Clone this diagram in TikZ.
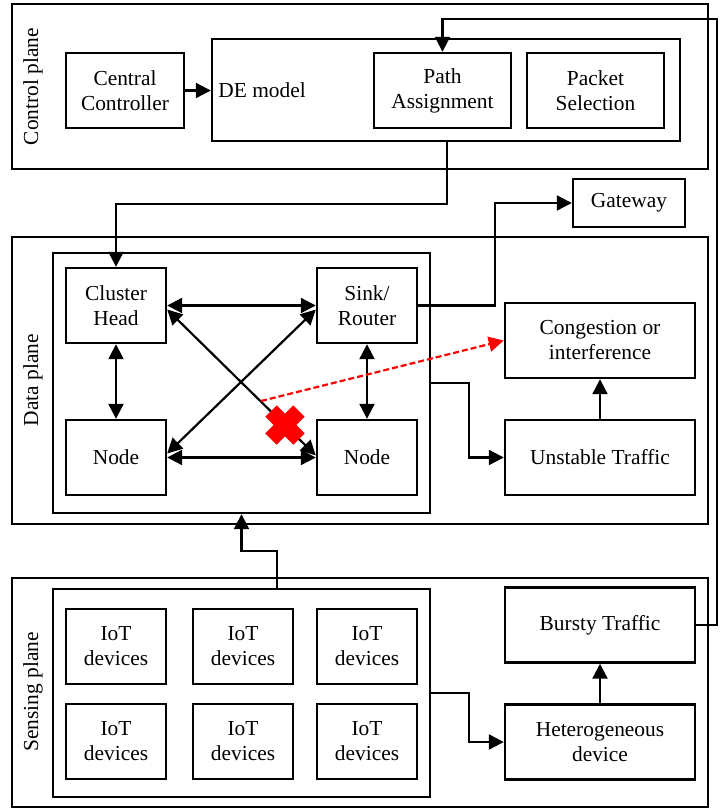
\documentclass[tikz,border=0pt]{standalone}
\usepackage{fontspec}
\setmainfont{Liberation Serif}
\usetikzlibrary{arrows.meta,calc}

\tikzset{
 blk/.style={draw,line width=1.2pt,align=center,inner sep=0pt,minimum width=50pt,minimum height=37.5pt},
 wide/.style={blk,minimum width=95pt},
 plane/.style={draw,line width=1.2pt,minimum width=348pt,inner sep=0pt},
 arr/.style={line width=1.1pt,-{Triangle[length=7.5pt,width=7.5pt]}},
 darr/.style={line width=1.1pt,{Triangle[length=7.5pt,width=7.5pt]}-{Triangle[length=7.5pt,width=7.5pt]}},
 jam/.style={red,line width=1.1pt,dash pattern=on 3pt off 1.5pt,-{Triangle[length=7.5pt,width=7.5pt]}}
}

\begin{document}
\begin{tikzpicture}[x=0.5pt,y=-0.5pt,font=\fontsize{10.7}{12.5}\selectfont]
\fill[white] (0,0) rectangle (725,809);

% planes
\node[plane,minimum height=82.5pt] (ctrl) at (360,86.5) {};
\node[plane,minimum height=143.5pt] (data) at (360,380.5) {};
\node[plane,minimum height=114.5pt] (sens) at (360,692.5) {};
\node[rotate=90] (ctrllbl) at (33,86.5) {Control plane};
\node[rotate=90] (datalbl) at (33,380) {Data plane};
\node[rotate=90] (senslbl) at (33,692) {Sensing plane};

% control plane
\node[blk,minimum width=234pt,minimum height=51pt] (de) at (446,90) {};
\node[anchor=west,inner sep=0pt] (delbl) at (218,90) {DE model};
\node[blk,minimum width=59pt] (cc) at (125,90.5) {Central\\Controller};
\node[blk,minimum width=68.5pt] (path) at (442.5,90.5) {Path\\Assignment};
\node[blk,minimum width=68.5pt] (pkt) at (595.5,90.5) {Packet\\Selection};
\node[blk,minimum width=56pt,minimum height=24pt] (gw) at (629,203) {Gateway};

% data plane
\node[blk,minimum width=188.5pt,minimum height=130pt] (dbox) at (241.5,383) {};
\node[blk] (ch) at (116,305.5) {Cluster\\Head};
\node[blk] (sr) at (367,305.5) {Sink/\\Router};
\node[blk] (nl) at (116,457.5) {Node};
\node[blk] (nr) at (367,457.5) {Node};
\node[wide] (cong) at (600,340.5) {Congestion or\\interference};
\node[wide] (unst) at (600,457.5) {Unstable Traffic};

% sensing plane
\node[blk,minimum width=188.5pt,minimum height=104pt] (sbox) at (241.5,693) {};
\foreach \c/\x in {1/116,2/243,3/367}
 \foreach \r/\y in {1/646.5,2/741.5}
  \node[blk] (iot\r\c) at (\x,\y) {IoT\\devices};
\node[wide] (bt) at (600,625) {Bursty Traffic};
\node[wide] (het) at (600,742) {Heterogeneous\\device};

\coordinate (fb) at (717,19);
\coordinate (drop) at (447,204);
\coordinate (up) at (277,551);
\coordinate (hit) at (261,401);
\coordinate (cross) at (285,425);

\draw[arr] (cc.east) -- (cc.east -| de.west);
\draw[arr] (bt.east) -| (fb) -| (path.north);
\draw[arr] (de.south -| drop) -- (drop) -| (ch.north);
\draw[arr] (sr.east) -- ++(77,0) |- (gw.west);

\draw[darr] (ch.east) -- (sr.west);
\draw[darr] (nl.east) -- (nr.west);
\draw[darr] (ch.south) -- (nl.north);
\draw[darr] (sr.south) -- (nr.north);
\draw[darr] ([yshift=-2pt]ch.east) -- ([yshift=1pt]nr.west);
\draw[darr] ([yshift=2pt]nl.east) -- ([yshift=-2pt]sr.west);

\draw[arr] (dbox.east) -- ++(38,0) |- (unst.west);
\draw[arr] (unst.north) -- (cong.south);
\draw[arr] (sbox.east) -- ++(38,0) |- (het.west);
\draw[arr] (het.north) -- (bt.south);
\draw[arr] (sbox.north -| up) -- (up) -| (dbox.south);

% broken link
\draw[jam] (hit) -- (cong.west);
\draw[red,line width=8pt] ($(cross)+(-14,-14)$) -- ($(cross)+(14,14)$)
 ($(cross)+(-14,14)$) -- ($(cross)+(14,-14)$);
\end{tikzpicture}
\end{document}
